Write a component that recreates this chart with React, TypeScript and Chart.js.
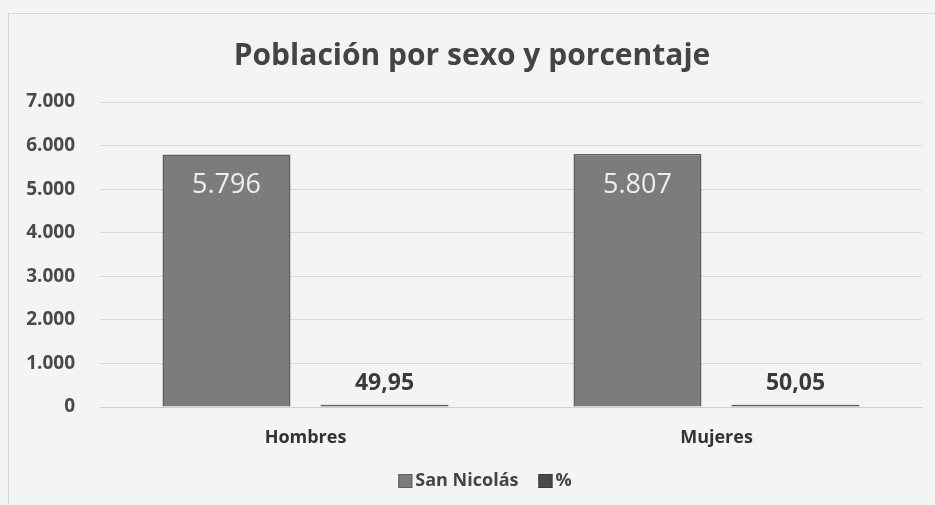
import React, { useEffect, useRef } from "react";
import { Chart, registerables } from "chart.js";

Chart.register(...registerables);

const categories = ["Hombres", "Mujeres"];
const poblacion = [5796, 5807];
const porcentaje = [49.95, 50.05];
const yTicks = [0, 1000, 2000, 3000, 4000, 5000, 6000, 7000];
const seriesNames = ["San Nicolás", "%"];
const seriesColors = ["#7c7c7c", "#4a4a4a"];
const seriesBorders = ["#5e5e5e", "#3a3a3a"];

const FONT = "'Open Sans', 'Noto Sans', sans-serif";

function fmtThousands(v: number): string {
  const s = Math.round(v).toString();
  return s.replace(/\B(?=(\d{3})+(?!\d))/g, ".");
}
function fmtDecimal(v: number): string {
  return v.toFixed(2).replace(".", ",");
}

const titlePlugin = {
  id: "customTitle",
  afterDraw(chart: any) {
    const ctx = chart.ctx;
    ctx.save();
    ctx.font = `bold 30px ${FONT}`;
    ctx.fillStyle = "#444444";
    ctx.textAlign = "center";
    ctx.textBaseline = "middle";
    ctx.fillText("Población por sexo y porcentaje", 472, 56);
    ctx.restore();
  },
};

const legendPlugin = {
  id: "customLegend",
  afterDraw(chart: any) {
    const ctx = chart.ctx;
    ctx.save();
    ctx.font = `bold 18px ${FONT}`;
    ctx.textBaseline = "middle";
    ctx.textAlign = "left";
    const box = 14;
    const gapBoxText = 3;
    const gapItems = 20;
    const widths = seriesNames.map((n) => box + gapBoxText + ctx.measureText(n).width);
    const total = widths.reduce((a, b) => a + b, 0) + gapItems * (seriesNames.length - 1);
    let x = 485 - total / 2;
    const cy = 481;
    seriesNames.forEach((n, i) => {
      ctx.fillStyle = seriesColors[i];
      ctx.fillRect(x, cy - box / 2, box, box);
      ctx.strokeStyle = seriesBorders[i];
      ctx.lineWidth = 1;
      ctx.strokeRect(x + 0.5, cy - box / 2 + 0.5, box - 1, box - 1);
      ctx.fillStyle = "#444444";
      ctx.fillText(n, x + box + gapBoxText, cy);
      x += widths[i] + gapItems;
    });
    ctx.restore();
  },
};

const labelPlugin = {
  id: "barLabels",
  afterDatasetsDraw(chart: any) {
    const ctx = chart.ctx;
    ctx.save();
    ctx.textAlign = "center";
    const m0 = chart.getDatasetMeta(0);
    m0.data.forEach((bar: any, i: number) => {
      ctx.font = `27px ${FONT}`;
      ctx.fillStyle = "#eeeeee";
      ctx.textBaseline = "middle";
      ctx.fillText(fmtThousands(poblacion[i]), bar.x, bar.y + 31);
    });
    const m1 = chart.getDatasetMeta(1);
    m1.data.forEach((bar: any, i: number) => {
      ctx.font = `bold 23px ${FONT}`;
      ctx.fillStyle = "#3a3a3a";
      ctx.textBaseline = "middle";
      ctx.fillText(fmtDecimal(porcentaje[i]), bar.x, bar.y - 21);
    });
    ctx.restore();
  },
};

export default function App() {
  const ref = useRef<HTMLCanvasElement | null>(null);
  useEffect(() => {
    document.body.style.margin = "0";
    const chart = new Chart(ref.current as HTMLCanvasElement, {
      type: "bar",
      data: {
        labels: categories,
        datasets: [
          {
            label: seriesNames[0],
            data: poblacion,
            backgroundColor: seriesColors[0],
            borderColor: seriesBorders[0],
            borderWidth: 1.5,
            categoryPercentage: 0.769,
            barPercentage: 0.81,
          },
          {
            label: seriesNames[1],
            data: porcentaje,
            backgroundColor: seriesColors[1],
            borderColor: seriesBorders[1],
            borderWidth: 1,
            categoryPercentage: 0.769,
            barPercentage: 0.81,
          },
        ],
      },
      options: {
        animation: false,
        responsive: false,
        maintainAspectRatio: false,
        layout: { padding: { top: 102, right: 13, left: 0, bottom: 43 } },
        plugins: {
          title: { display: false },
          tooltip: { enabled: false },
          legend: { display: false },
        },
        scales: {
          x: {
            grid: { display: false, drawTicks: false },
            border: { display: true, color: "#cfcfcf" },
            ticks: {
              color: "#333333",
              font: { family: FONT, size: 18, weight: "bold" },
              padding: 20,
            },
            afterFit(scale: any) {
              scale.height = 55;
            },
          },
          y: {
            min: 0,
            max: 7000,
            afterBuildTicks(scale: any) {
              scale.ticks = yTicks.map((v) => ({ value: v }));
            },
            grid: { color: "#d9d9d9", drawTicks: false },
            border: { display: false },
            ticks: {
              color: "#4a4a4a",
              font: { family: FONT, size: 19, weight: "bold" },
              padding: 25,
              callback: (v: any) => fmtThousands(Number(v)),
            },
            afterFit(scale: any) {
              scale.width = 100;
            },
          },
        },
      },
      plugins: [titlePlugin, labelPlugin, legendPlugin],
    } as any);
    return () => chart.destroy();
  }, []);
  return (
    <div style={{ position: "relative", width: 935, height: 505, background: "#f4f4f4" }}>
      <div
        style={{
          position: "absolute",
          left: 8,
          top: 13,
          width: 940,
          height: 500,
          border: "1px solid #d6d6d6",
          boxSizing: "border-box",
        }}
      />
      <canvas ref={ref} width={935} height={505} style={{ position: "absolute", left: 0, top: 0 }} />
    </div>
  );
}
